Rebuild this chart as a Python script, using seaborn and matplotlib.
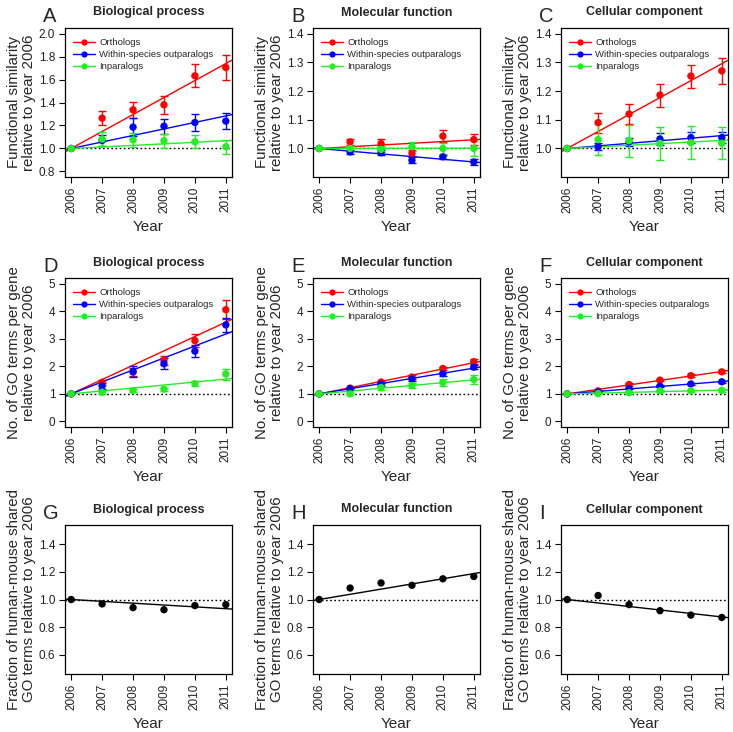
import numpy as np
import pandas as pd
import seaborn as sns
import matplotlib.pyplot as plt
from matplotlib.lines import Line2D
from matplotlib.ticker import FormatStrFormatter

sns.set_theme(style="ticks")
plt.rcParams['font.family'] = ['Liberation Sans', 'DejaVu Sans']

years = [2006, 2007, 2008, 2009, 2010, 2011]
groups = ["Orthologs", "Within-species outparalogs", "Inparalogs"]
colores = ["#FF0000", "#0000FF", "#22EE22"]

# Functional similarity (A-C), rows: orthologs, outparalogs, inparalogs
sim_bp = [[1.0, 1.264, 1.336, 1.380, 1.632, 1.704],
          [1.0, 1.070, 1.186, 1.194, 1.226, 1.238],
          [1.0, 1.081, 1.075, 1.067, 1.058, 1.015]]
sim_bp_err = [[0, 0.064, 0.070, 0.078, 0.100, 0.106],
              [0, 0.050, 0.077, 0.064, 0.070, 0.070],
              [0, 0.060, 0.060, 0.060, 0.055, 0.060]]
sim_mf = [[1.0, 1.023, 1.017, 0.983, 1.043, 1.031],
          [1.0, 0.988, 0.985, 0.959, 0.971, 0.953],
          [1.0, 1.000, 0.997, 1.006, 1.000, 1.000]]
sim_mf_err = [[0, 0.010, 0.015, 0.010, 0.020, 0.020],
              [0, 0.008, 0.008, 0.010, 0.008, 0.010],
              [0, 0.010, 0.010, 0.015, 0.020, 0.025]]
sim_cc = [[1.0, 1.090, 1.120, 1.186, 1.252, 1.270],
          [1.0, 1.006, 1.023, 1.033, 1.038, 1.038],
          [1.0, 1.031, 1.027, 1.018, 1.020, 1.018]]
sim_cc_err = [[0, 0.035, 0.035, 0.040, 0.040, 0.045],
              [0, 0.012, 0.015, 0.020, 0.020, 0.020],
              [0, 0.054, 0.056, 0.057, 0.057, 0.056]]

# GO terms per gene (D-F)
go_bp = [[1.0, 1.42, 1.79, 2.21, 2.93, 4.05],
         [1.0, 1.28, 1.81, 2.09, 2.55, 3.50],
         [1.0, 1.06, 1.12, 1.17, 1.37, 1.72]]
go_bp_err = [[0, 0.10, 0.15, 0.15, 0.23, 0.34],
             [0, 0.10, 0.20, 0.20, 0.22, 0.25],
             [0, 0.05, 0.06, 0.06, 0.08, 0.20]]
go_mf = [[1.0, 1.21, 1.43, 1.61, 1.92, 2.17],
         [1.0, 1.19, 1.35, 1.54, 1.73, 1.97],
         [1.0, 1.00, 1.23, 1.30, 1.41, 1.52]]
go_mf_err = [[0, 0.04, 0.05, 0.06, 0.07, 0.08],
             [0, 0.04, 0.05, 0.06, 0.07, 0.08],
             [0, 0.05, 0.10, 0.10, 0.12, 0.15]]
go_cc = [[1.0, 1.11, 1.34, 1.50, 1.66, 1.80],
         [1.0, 1.07, 1.19, 1.28, 1.36, 1.44],
         [1.0, 1.01, 1.04, 1.11, 1.11, 1.13]]
go_cc_err = [[0, 0.03, 0.04, 0.04, 0.05, 0.05],
             [0, 0.03, 0.03, 0.04, 0.04, 0.04],
             [0, 0.03, 0.03, 0.04, 0.04, 0.05]]

# Fraction of human-mouse shared GO terms (G-I)
shared_bp = [1.0, 0.968, 0.941, 0.926, 0.956, 0.963]
shared_mf = [1.0, 1.083, 1.120, 1.103, 1.150, 1.167]
shared_cc = [1.0, 1.029, 0.963, 0.919, 0.887, 0.870]

titulos = ["Biological process", "Molecular function", "Cellular component"]
letras = ["A", "B", "C", "D", "E", "F", "G", "H", "I"]
ylabels = ["Functional similarity\nrelative to year 2006",
           "No. of GO terms per gene\nrelative to year 2006",
           "Fraction of human-mouse shared\nGO terms relative to year 2006"]

W, H = 733, 732
col_left = [65, 313, 561]
ax_w = 167
row_top = [28, 278, 525]
ax_h = 149


def pendiente(y):
    # regression through (2006, 1)
    x = np.array(years) - 2006
    return np.sum(x * (np.array(y) - 1)) / np.sum(x * x)


def dibujar(ax, series, errores, cols):
    for y, e, c in zip(series, errores, cols):
        if e is not None:
            ax.errorbar(years[1:], y[1:], yerr=e[1:], fmt='none', ecolor=c,
                        elinewidth=1, capsize=2.8, capthick=1, zorder=2)
        ax.axline((2006, 1), slope=pendiente(y), color=c, lw=1, zorder=2)
    df = pd.DataFrame({
        'year': years * len(series),
        'value': np.concatenate(series),
        'group': np.repeat(np.arange(len(series)), len(years)),
    })
    sns.scatterplot(data=df, x='year', y='value', hue='group', palette=cols,
                    s=28, edgecolor='none', legend=False, ax=ax, zorder=3)
    ax.axhline(1, color='black', ls=(0, (1.2, 1.8)), lw=1, zorder=1)


fig = plt.figure(figsize=(W / 100, H / 100), dpi=100)

paneles = [
    (sim_bp, sim_bp_err, (0.8, 2.0), np.arange(0.8, 2.01, 0.2), '%.1f'),
    (sim_mf, sim_mf_err, (0.92, 1.4), np.arange(1.0, 1.41, 0.1), '%.1f'),
    (sim_cc, sim_cc_err, (0.92, 1.4), np.arange(1.0, 1.41, 0.1), '%.1f'),
    (go_bp, go_bp_err, (0, 5), np.arange(0, 6), '%d'),
    (go_mf, go_mf_err, (0, 5), np.arange(0, 6), '%d'),
    (go_cc, go_cc_err, (0, 5), np.arange(0, 6), '%d'),
    ([shared_bp], [None], (0.5, 1.5), np.arange(0.6, 1.41, 0.2), '%.1f'),
    ([shared_mf], [None], (0.5, 1.5), np.arange(0.6, 1.41, 0.2), '%.1f'),
    ([shared_cc], [None], (0.5, 1.5), np.arange(0.6, 1.41, 0.2), '%.1f'),
]

for i, (series, errores, lim, ticks, fmt) in enumerate(paneles):
    fila, col = divmod(i, 3)
    rect = [col_left[col] / W, 1 - (row_top[fila] + ax_h) / H, ax_w / W, ax_h / H]
    ax = fig.add_axes(rect)
    cols = colores if fila < 2 else ['black']
    dibujar(ax, series, errores, cols)

    r = lim[1] - lim[0]
    ax.set_ylim(lim[0] - 0.04 * r, lim[1] + 0.04 * r)
    ax.set_xlim(2006 - 0.2, 2011 + 0.2)
    ax.set_xticks(years)
    ax.set_xticklabels([str(y) for y in years], rotation=90)
    ax.set_yticks(ticks)
    ax.yaxis.set_major_formatter(FormatStrFormatter(fmt))
    ax.tick_params(axis='both', length=4, width=0.8, pad=3, labelsize=8.5,
                   colors='black', labelcolor='#222222')
    for sp in ax.spines.values():
        sp.set_visible(True)
        sp.set_color('black')
        sp.set_linewidth(0.9)

    ax.set_xlabel("Year", fontsize=11)
    ax.xaxis.set_label_coords(0.5, -0.29)
    ax.set_ylabel(ylabels[fila], fontsize=10.8, linespacing=1.05)
    ax.yaxis.set_label_coords(-0.175, 0.5)
    ax.set_title(titulos[col], fontsize=9, fontweight='bold', pad=9)

    fig.text((col_left[col] - 22) / W, 1 - (row_top[fila] - 6) / H, letras[i],
             fontsize=14.5, ha='left', va='baseline')

    if fila < 2:
        handles = [Line2D([0], [0], color=c, lw=1, marker='o', markersize=4.5,
                          markeredgewidth=0) for c in colores]
        ax.legend(handles, groups, loc='upper left', bbox_to_anchor=(0.05, 0.93),
                  frameon=False, fontsize=6.8, handlelength=2.3,
                  handletextpad=0.45, labelspacing=0.3, borderpad=0,
                  borderaxespad=0)

fig.savefig("out.png", dpi=100)
